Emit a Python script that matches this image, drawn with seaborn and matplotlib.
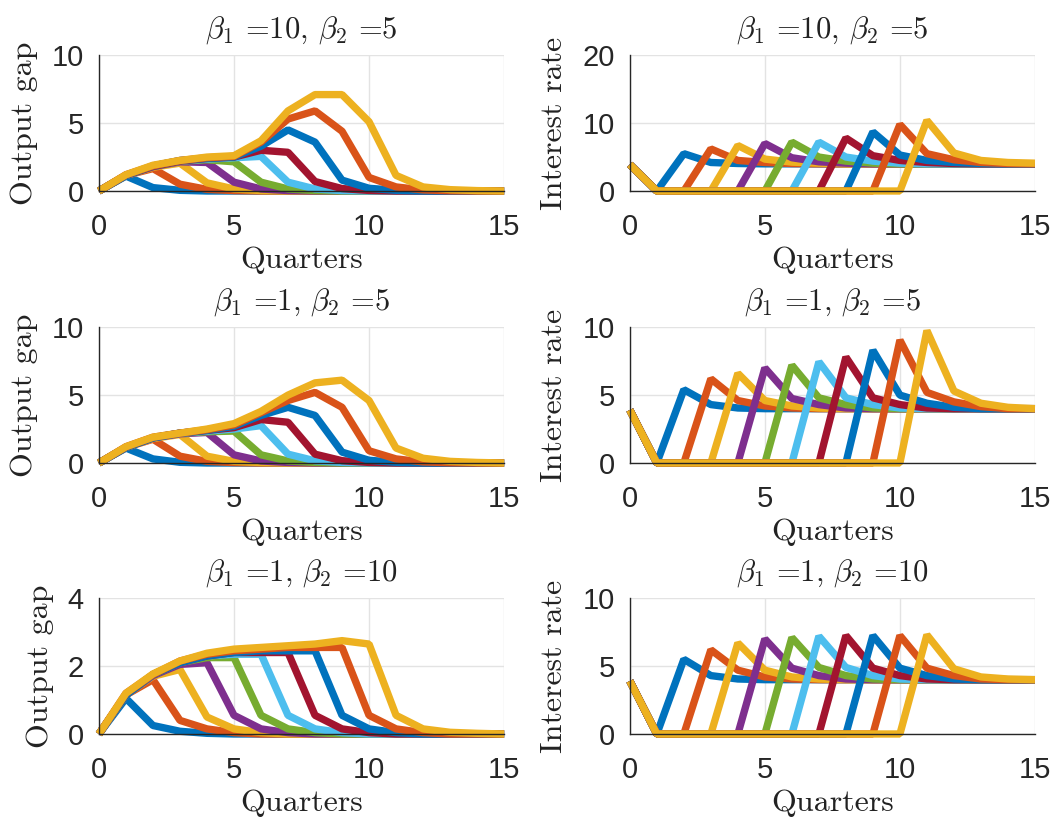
import pandas as pd
import seaborn as sns
import matplotlib
matplotlib.use("Agg")
import matplotlib.pyplot as plt

# quarters and ZLB durations (one line per duration)
quarters = list(range(16))
durations = list(range(1, 11))

# output gap, beta1=10, beta2=5
gap_a = [
    [0, 1.1, 0.25, 0.05, 0, 0, 0, 0, 0, 0, 0, 0, 0, 0, 0, 0],
    [0, 1.15, 1.65, 0.5, 0.12, 0.03, 0, 0, 0, 0, 0, 0, 0, 0, 0, 0],
    [0, 1.15, 1.75, 2.05, 0.6, 0.15, 0.03, 0, 0, 0, 0, 0, 0, 0, 0, 0],
    [0, 1.15, 1.8, 2.15, 2.1, 0.65, 0.15, 0.03, 0, 0, 0, 0, 0, 0, 0, 0],
    [0, 1.15, 1.8, 2.2, 2.3, 2.15, 0.65, 0.15, 0.03, 0, 0, 0, 0, 0, 0, 0],
    [0, 1.15, 1.8, 2.2, 2.35, 2.45, 2.55, 0.65, 0.15, 0.03, 0, 0, 0, 0, 0, 0],
    [0, 1.15, 1.8, 2.2, 2.4, 2.5, 3.0, 2.85, 0.7, 0.18, 0.04, 0, 0, 0, 0, 0],
    [0, 1.15, 1.85, 2.25, 2.4, 2.5, 3.3, 4.5, 3.6, 0.8, 0.2, 0.05, 0, 0, 0, 0],
    [0, 1.2, 1.85, 2.25, 2.45, 2.55, 3.6, 5.3, 5.9, 4.4, 1.0, 0.3, 0.08, 0.02, 0, 0],
    [0, 1.2, 1.9, 2.25, 2.5, 2.6, 3.7, 5.9, 7.1, 7.1, 5.1, 1.15, 0.3, 0.1, 0.03, 0],
]

# interest rate, beta1=10, beta2=5
rate_a = [
    [3.9, 0, 5.5, 4.2, 4.05, 4, 4, 4, 4, 4, 4, 4, 4, 4, 4, 4],
    [3.9, 0, 0, 6.2, 4.5, 4.2, 4.05, 4, 4, 4, 4, 4, 4, 4, 4, 4],
    [3.9, 0, 0, 0, 6.7, 4.7, 4.25, 4.1, 4, 4, 4, 4, 4, 4, 4, 4],
    [3.9, 0, 0, 0, 0, 7.0, 4.9, 4.3, 4.1, 4, 4, 4, 4, 4, 4, 4],
    [3.9, 0, 0, 0, 0, 0, 7.2, 5.0, 4.4, 4.1, 4, 4, 4, 4, 4, 4],
    [3.9, 0, 0, 0, 0, 0, 0, 7.2, 5.0, 4.4, 4.1, 4, 4, 4, 4, 4],
    [3.9, 0, 0, 0, 0, 0, 0, 0, 7.8, 5.2, 4.5, 4.2, 4.05, 4, 4, 4],
    [3.9, 0, 0, 0, 0, 0, 0, 0, 0, 8.7, 5.3, 4.5, 4.2, 4.05, 4, 4],
    [3.9, 0, 0, 0, 0, 0, 0, 0, 0, 0, 9.8, 5.5, 4.6, 4.2, 4.05, 4],
    [3.9, 0, 0, 0, 0, 0, 0, 0, 0, 0, 0, 10.4, 5.6, 4.5, 4.2, 4.1],
]

# output gap, beta1=1, beta2=5
gap_b = [
    [0, 1.1, 0.3, 0.05, 0, 0, 0, 0, 0, 0, 0, 0, 0, 0, 0, 0],
    [0, 1.15, 1.75, 0.5, 0.12, 0.03, 0, 0, 0, 0, 0, 0, 0, 0, 0, 0],
    [0, 1.15, 1.8, 2.1, 0.5, 0.12, 0.03, 0, 0, 0, 0, 0, 0, 0, 0, 0],
    [0, 1.15, 1.85, 2.15, 2.25, 0.6, 0.15, 0.04, 0, 0, 0, 0, 0, 0, 0, 0],
    [0, 1.15, 1.85, 2.2, 2.3, 2.35, 0.6, 0.15, 0.04, 0, 0, 0, 0, 0, 0, 0],
    [0, 1.15, 1.85, 2.2, 2.35, 2.5, 2.75, 0.65, 0.16, 0.04, 0, 0, 0, 0, 0, 0],
    [0, 1.15, 1.85, 2.2, 2.4, 2.6, 3.2, 3.0, 0.65, 0.17, 0.04, 0, 0, 0, 0, 0],
    [0, 1.15, 1.85, 2.2, 2.4, 2.7, 3.5, 4.1, 3.5, 0.8, 0.2, 0.05, 0, 0, 0, 0],
    [0, 1.2, 1.9, 2.2, 2.45, 2.8, 3.7, 4.6, 5.2, 4.1, 0.9, 0.3, 0.08, 0.02, 0, 0],
    [0, 1.2, 1.9, 2.2, 2.5, 2.9, 3.8, 5.0, 5.9, 6.1, 4.6, 1.1, 0.35, 0.12, 0.04, 0],
]

# interest rate, beta1=1, beta2=5
rate_b = [
    [3.9, 0, 5.4, 4.3, 4.05, 4, 4, 4, 4, 4, 4, 4, 4, 4, 4, 4],
    [3.9, 0, 0, 6.2, 4.6, 4.2, 4.05, 4, 4, 4, 4, 4, 4, 4, 4, 4],
    [3.9, 0, 0, 0, 6.6, 4.6, 4.2, 4.05, 4, 4, 4, 4, 4, 4, 4, 4],
    [3.9, 0, 0, 0, 0, 7.0, 4.75, 4.3, 4.05, 4, 4, 4, 4, 4, 4, 4],
    [3.9, 0, 0, 0, 0, 0, 7.2, 4.8, 4.3, 4.05, 4, 4, 4, 4, 4, 4],
    [3.9, 0, 0, 0, 0, 0, 0, 7.45, 4.8, 4.3, 4.05, 4, 4, 4, 4, 4],
    [3.9, 0, 0, 0, 0, 0, 0, 0, 7.8, 4.8, 4.3, 4.05, 4, 4, 4, 4],
    [3.9, 0, 0, 0, 0, 0, 0, 0, 0, 8.3, 5.0, 4.4, 4.1, 4, 4, 4],
    [3.9, 0, 0, 0, 0, 0, 0, 0, 0, 0, 9.05, 5.2, 4.5, 4.15, 4.0, 4],
    [3.9, 0, 0, 0, 0, 0, 0, 0, 0, 0, 0, 9.75, 5.3, 4.4, 4.1, 4.0],
]

# output gap, beta1=1, beta2=10
gap_c = [
    [0, 1.05, 0.25, 0.08, 0.02, 0, 0, 0, 0, 0, 0, 0, 0, 0, 0, 0],
    [0, 1.15, 1.6, 0.4, 0.15, 0.04, 0, 0, 0, 0, 0, 0, 0, 0, 0, 0],
    [0, 1.15, 1.7, 1.9, 0.5, 0.15, 0.04, 0, 0, 0, 0, 0, 0, 0, 0, 0],
    [0, 1.15, 1.72, 2.05, 2.1, 0.55, 0.15, 0.04, 0, 0, 0, 0, 0, 0, 0, 0],
    [0, 1.15, 1.75, 2.1, 2.25, 2.25, 0.55, 0.15, 0.04, 0, 0, 0, 0, 0, 0, 0],
    [0, 1.15, 1.75, 2.1, 2.3, 2.35, 2.35, 0.55, 0.15, 0.04, 0, 0, 0, 0, 0, 0],
    [0, 1.15, 1.75, 2.1, 2.3, 2.4, 2.4, 2.4, 0.55, 0.15, 0.04, 0, 0, 0, 0, 0],
    [0, 1.15, 1.75, 2.1, 2.3, 2.4, 2.45, 2.45, 2.45, 0.55, 0.15, 0.04, 0, 0, 0, 0],
    [0, 1.2, 1.75, 2.15, 2.35, 2.45, 2.5, 2.55, 2.55, 2.55, 0.55, 0.15, 0.04, 0, 0, 0],
    [0, 1.2, 1.77, 2.15, 2.38, 2.5, 2.55, 2.6, 2.65, 2.75, 2.65, 0.55, 0.15, 0.05, 0.02, 0],
]

# interest rate, beta1=1, beta2=10
rate_c = [
    [3.9, 0, 5.5, 4.3, 4.05, 4, 4, 4, 4, 4, 4, 4, 4, 4, 4, 4],
    [3.9, 0, 0, 6.2, 4.7, 4.2, 4.05, 4, 4, 4, 4, 4, 4, 4, 4, 4],
    [3.9, 0, 0, 0, 6.7, 4.7, 4.2, 4.05, 4, 4, 4, 4, 4, 4, 4, 4],
    [3.9, 0, 0, 0, 0, 7.0, 4.85, 4.3, 4.05, 4, 4, 4, 4, 4, 4, 4],
    [3.9, 0, 0, 0, 0, 0, 7.1, 4.9, 4.3, 4.05, 4, 4, 4, 4, 4, 4],
    [3.9, 0, 0, 0, 0, 0, 0, 7.2, 4.9, 4.3, 4.05, 4, 4, 4, 4, 4],
    [3.9, 0, 0, 0, 0, 0, 0, 0, 7.25, 4.85, 4.3, 4.05, 4, 4, 4, 4],
    [3.9, 0, 0, 0, 0, 0, 0, 0, 0, 7.25, 4.85, 4.3, 4.05, 4, 4, 4],
    [3.9, 0, 0, 0, 0, 0, 0, 0, 0, 0, 7.25, 4.85, 4.3, 4.05, 4, 4],
    [3.9, 0, 0, 0, 0, 0, 0, 0, 0, 0, 0, 7.3, 4.8, 4.2, 4.05, 4.0],
]

titles = [r"$\beta_1$ =10, $\beta_2$ =5", r"$\beta_1$ =1, $\beta_2$ =5", r"$\beta_1$ =1, $\beta_2$ =10"]
ylabels = ["Output gap", "Interest rate"]
yticks = [[0, 5, 10], [0, 10, 20], [0, 5, 10], [0, 5, 10], [0, 2, 4], [0, 5, 10]]

# matlab default line colours
colors = ["#0072BD", "#D95319", "#EDB120", "#7E2F8E", "#77AC30",
          "#4DBEEE", "#A2142F", "#0072BD", "#D95319", "#EDB120"]


def to_frame(rows):
    recs = []
    for k, row in zip(durations, rows):
        for t, v in zip(quarters, row):
            recs.append({"t": t, "k": k, "value": v})
    return pd.DataFrame(recs)


sns.set_style("white")
plt.rcParams["mathtext.fontset"] = "cm"
plt.rcParams["axes.unicode_minus"] = False

fig = plt.figure(figsize=(10.55, 8.18), dpi=100)

lefts = [0.0938, 0.597]
bottoms = [0.7665, 0.434, 0.1027]
panels = [gap_a, rate_a, gap_b, rate_b, gap_c, rate_c]

for i, rows in enumerate(panels):
    r, c = divmod(i, 2)
    ax = fig.add_axes([lefts[c], bottoms[r], 0.384, 0.166])
    sns.lineplot(data=to_frame(rows), x="t", y="value", hue="k",
                 palette=colors, linewidth=5.3, legend=False, ax=ax)
    for ln in ax.lines:
        ln.set_clip_on(False)
        ln.set_solid_joinstyle("bevel")
        ln.set_solid_capstyle("butt")
    ax.set_xlim(0, 15)
    ax.set_ylim(yticks[i][0], yticks[i][-1])
    ax.set_xticks([0, 5, 10, 15])
    ax.set_yticks(yticks[i])
    ax.grid(True, color="#e3e3e3", linewidth=1)
    ax.set_axisbelow(True)
    for s in ["top", "right"]:
        ax.spines[s].set_visible(False)
    for s in ["left", "bottom"]:
        ax.spines[s].set_color("#262626")
        ax.spines[s].set_linewidth(1)
    ax.tick_params(direction="in", length=4, width=1, color="#262626",
                   labelsize=21, labelcolor="#262626")
    ax.tick_params(axis="x", pad=16)
    ax.tick_params(axis="y", pad=11)
    for lab in ax.get_xticklabels() + ax.get_yticklabels():
        lab.set_fontfamily("Liberation Sans")
    ax.set_title(titles[r], fontsize=22, family="cmr10", color="#222222", pad=13)
    ax.set_xlabel("Quarters", fontsize=23, family="cmr10", color="#222222", labelpad=4)
    ax.set_ylabel(ylabels[c], fontsize=23, family="cmr10", color="#222222", labelpad=10)

fig.savefig("out.png", dpi=100)
